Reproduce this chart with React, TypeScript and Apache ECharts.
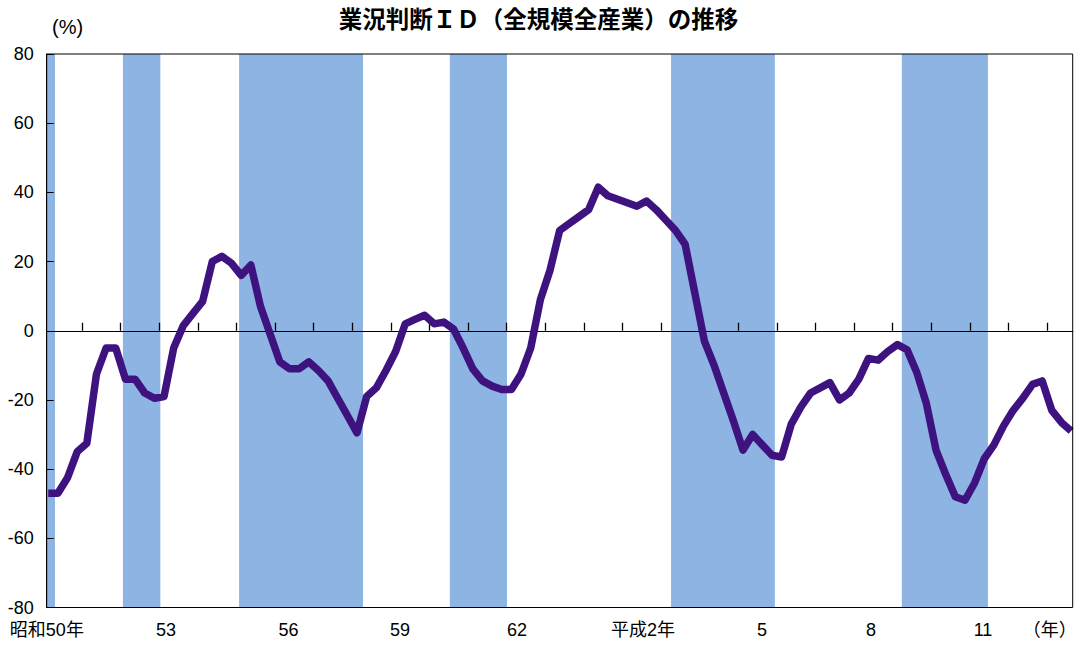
import React, { useEffect, useRef } from "react";
import * as echarts from "echarts";

// 業況判断DI（全規模全産業）: quarterly survey values (Feb/May/Aug/Nov), from 昭和50年 (1975) Feb
const diValues: number[] = [
  -47, -47, -42.5, -35, -32.5, -12.5, -5, -5, -14, -14,
  -18, -19.5, -19, -5, 1.5, 5, 8.5, 20, 21.5, 19.5,
  16, 19, 7, -1, -9, -11, -11, -9, -11.5, -14.5,
  -19.5, -24.5, -29.5, -19, -16.5, -11.5, -6, 2, 3.3, 4.5,
  2, 2.5, 0.5, -5, -11, -14.5, -16, -17, -17, -12.5,
  -5, 9, 17.5, 29, 31, 33, 35, 41.5, 39, 38,
  37, 36, 37.5, 35, 32, 29, 25, 11, -3, -10,
  -18, -26, -34.5, -30, -33, -36, -36.5, -27, -22, -18,
  -16.5, -15, -20, -18, -14, -8, -8.5, -6, -4, -5.5,
  -12, -21, -34.5, -41.5, -48, -49, -44, -37, -33, -27.5,
  -23, -19.5, -15.5, -14.5, -23, -26.5, -29,
];
const firstYear = 1975;
const firstSurveyMonth = 1.5; // mid-February
const monthsPerSurvey = 3;

// Recession periods (shaded), in fractional years
const recessionStart: number[] = [1975.0, 1977.06, 1980.07, 1985.53, 1991.26, 1997.24];
const recessionEnd: number[] = [1975.3, 1978.03, 1983.28, 1987.01, 1993.95, 1999.47];

// Axis
const tickYears: number[] = [
  1976, 1977, 1978, 1979, 1980, 1981, 1982, 1983, 1984, 1985, 1986, 1987, 1988,
  1989, 1990, 1991, 1992, 1993, 1994, 1995, 1996, 1997, 1998, 1999, 2000, 2001,
];
const xLabels: string[] = ["昭和50年", "53", "56", "59", "62", "平成2年", "5", "8", "11", "（年）"];
const xLabelYears: number[] = [1975.09, 1978.176, 1981.352, 1984.238, 1987.269, 1990.534, 1993.617, 1996.44, 1999.342, 2001.07];
const X_MIN = 1975.0855;
const X_MAX = 2001.666;
const Y_MIN = -80;
const Y_MAX = 80;
const Y_STEP = 20;

const TITLE = "業況判断ＩＤ（全規模全産業）の推移";
const UNIT = "(%)";

const LINE_COLOR = "#3e1380";
const BAND_COLOR = "#8db4e2";
const FONT = '"Liberation Sans", "Noto Sans CJK JP", sans-serif';

export default function App() {
  const ref = useRef<HTMLDivElement>(null);

  useEffect(() => {
    document.body.style.margin = "0";
    document.documentElement.style.overflow = "hidden";
    document.body.style.overflow = "hidden";
    if (!ref.current) return;
    const chart = echarts.init(ref.current, null, { renderer: "svg" });

    const lineData = diValues.map((v, i) => [
      firstYear + (firstSurveyMonth + monthsPerSurvey * i) / 12,
      v,
    ]);
    const bandData = recessionStart.map((s, i) => [s, recessionEnd[i]]);

    chart.setOption({
      animation: false,
      backgroundColor: "#fff",
      title: [
        {
          text: TITLE,
          left: "center",
          top: 6,
          padding: 0,
          textStyle: {
            fontFamily: '"Noto Sans CJK JP", sans-serif',
            fontWeight: "bold",
            fontSize: 23.5,
            color: "#000",
          },
        },
        {
          text: UNIT,
          left: 52,
          top: 17,
          padding: 0,
          textStyle: { fontFamily: FONT, fontWeight: "normal", fontSize: 20, color: "#000" },
        },
      ],
      grid: {
        left: 46.7,
        right: 4.3,
        top: 54,
        bottom: 37.5,
        outerBoundsMode: "none",
        containLabel: false,
        show: true,
        borderColor: "#000",
        borderWidth: 1,
        backgroundColor: "transparent",
        z: 4,
      },
      xAxis: [
        {
          type: "value",
          min: X_MIN,
          max: X_MAX,
          position: "bottom",
          z: 2,
          axisLine: { show: true, onZero: true, onZeroAxisIndex: 0, lineStyle: { color: "#000", width: 1.2 } },
          axisTick: { show: true, inside: true, length: 8, customValues: tickYears, lineStyle: { color: "#000", width: 1.3 } },
          axisLabel: { show: false },
          splitLine: { show: false },
        },
        {
          type: "value",
          min: X_MIN,
          max: X_MAX,
          position: "bottom",
          axisLine: { show: false, onZero: false },
          axisTick: { show: false },
          axisLabel: {
            show: true,
            customValues: xLabelYears,
            margin: 13,
            fontSize: 18,
            fontFamily: FONT,
            color: "#000",
            formatter: (val: number) => {
              const idx = xLabelYears.findIndex((y) => Math.abs(y - val) < 1e-6);
              return idx >= 0 ? xLabels[idx] : "";
            },
          },
          splitLine: { show: false },
        },
      ],
      yAxis: {
        type: "value",
        min: Y_MIN,
        max: Y_MAX,
        interval: Y_STEP,
        z: 2,
        axisLine: { show: true, onZero: false, lineStyle: { color: "#000", width: 1 } },
        axisTick: { show: true, inside: true, length: 7, lineStyle: { color: "#000" } },
        axisLabel: { fontSize: 18, margin: 13, fontFamily: FONT, color: "#000" },
        splitLine: { show: false },
      },
      series: [
        {
          type: "custom",
          z: 1,
          silent: true,
          clip: true,
          xAxisIndex: 0,
          data: bandData,
          encode: { x: [0, 1] },
          renderItem: (params: any, api: any) => {
            const s = api.coord([api.value(0), Y_MAX]);
            const e = api.coord([api.value(1), Y_MIN]);
            return {
              type: "rect",
              shape: { x: s[0], y: s[1], width: e[0] - s[0], height: e[1] - s[1] },
              style: { fill: BAND_COLOR },
            };
          },
        },
        {
          type: "line",
          z: 3,
          xAxisIndex: 0,
          data: lineData,
          showSymbol: false,
          symbol: "none",
          lineStyle: { color: LINE_COLOR, width: 7.5, join: "round", cap: "butt" },
        },
      ],
    });

    const onResize = () => chart.resize();
    window.addEventListener("resize", onResize);
    return () => {
      window.removeEventListener("resize", onResize);
      chart.dispose();
    };
  }, []);

  return (
    <div
      ref={ref}
      style={{ position: "fixed", left: 0, top: 0, width: "100vw", height: "100vh" }}
    />
  );
}
